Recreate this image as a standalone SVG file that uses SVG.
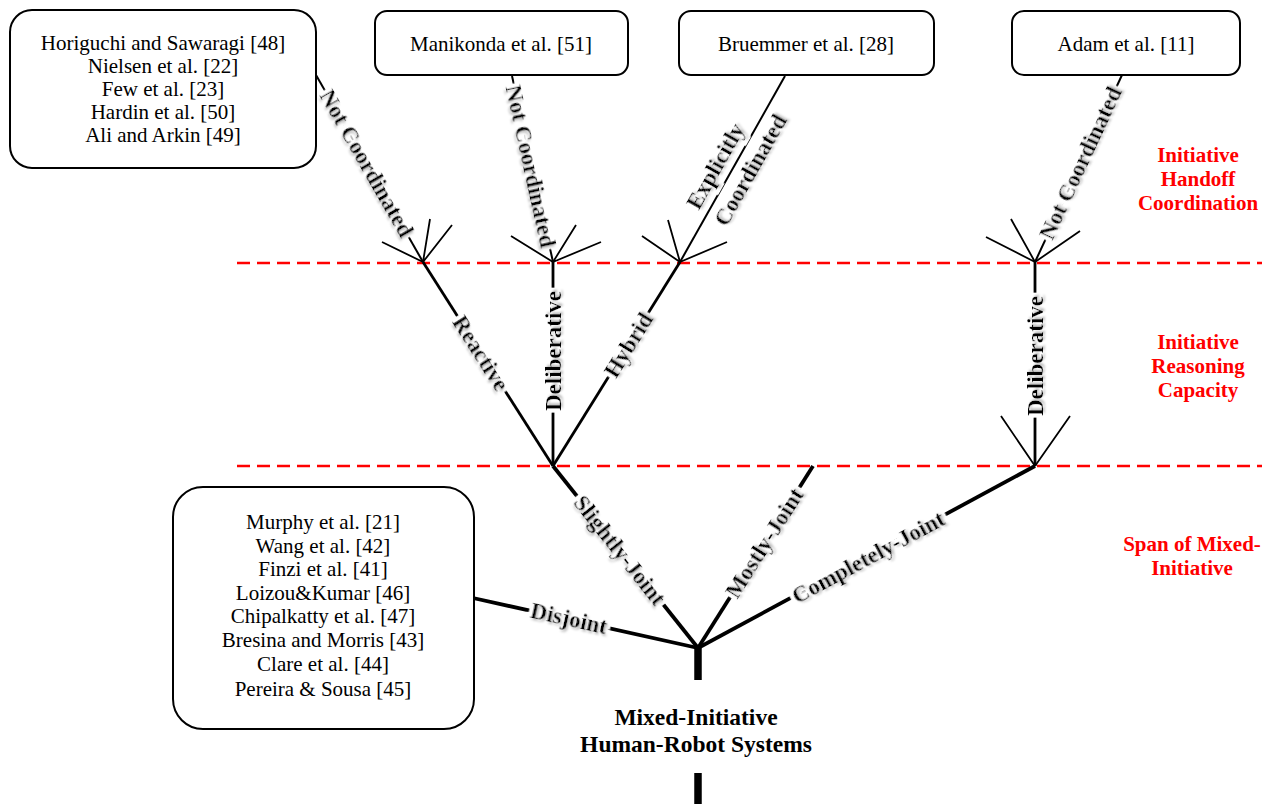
<svg xmlns="http://www.w3.org/2000/svg" width="1266" height="804" viewBox="0 0 1266 804">
<defs>
<style>
.box{fill:#fff;stroke:#000;stroke-width:2}
.bt{font-family:"Liberation Serif","Times New Roman",serif;font-size:21px;fill:#000;text-anchor:middle}
.red{font-family:"Liberation Serif","Times New Roman",serif;font-size:21px;font-weight:bold;fill:#ff0000;text-anchor:middle}
.title{font-family:"Liberation Serif","Times New Roman",serif;font-size:23.5px;font-weight:bold;fill:#000;text-anchor:middle}
.lbl{font-family:"Liberation Serif","Times New Roman",serif;font-size:23px;font-weight:bold;fill:#000;text-anchor:middle;dominant-baseline:central;filter:url(#halo)}
.dash{stroke:#ff0000;stroke-width:2.5;stroke-dasharray:13 7;fill:none}
.c1{stroke:#000;stroke-width:2;fill:none}
.c2{stroke:#000;stroke-width:2.8;fill:none}
.c3{stroke:#000;stroke-width:3.8;fill:none}
.fan{stroke:#000;stroke-width:1.8;fill:none}
</style>
<filter id="halo" x="-20%" y="-60%" width="140%" height="220%">
<feMorphology in="SourceAlpha" operator="dilate" radius="3.5" result="d"/>
<feFlood flood-color="#ffffff"/>
<feComposite in2="d" operator="in" result="white"/>
<feGaussianBlur in="SourceAlpha" stdDeviation="1.2" result="b"/>
<feOffset in="b" dx="1.5" dy="1.5" result="o"/>
<feFlood flood-color="#777777" flood-opacity="0.6"/>
<feComposite in2="o" operator="in" result="shadow"/>
<feMerge><feMergeNode in="white"/><feMergeNode in="shadow"/><feMergeNode in="SourceGraphic"/></feMerge>
</filter>
</defs>
<rect width="1266" height="804" fill="#fff"/>

<g id="levels">
<line class="dash" x1="237" y1="263" x2="1262" y2="263"/>
<line class="dash" x1="237" y1="466" x2="1262" y2="466"/>
</g>

<g id="connectors">
<line class="c1" x1="316" y1="75" x2="423" y2="262"/>
<line class="c1" x1="512" y1="76" x2="553" y2="262"/>
<line class="c1" x1="785" y1="76" x2="680" y2="262"/>
<line class="c1" x1="1122" y1="75" x2="1035" y2="262"/>
<line class="c2" x1="553" y1="466" x2="423" y2="262"/>
<line class="c2" x1="553" y1="466" x2="553" y2="262"/>
<line class="c2" x1="553" y1="466" x2="680" y2="262"/>
<line class="c2" x1="1035" y1="466" x2="1035" y2="262"/>
<line class="c3" x1="698" y1="648" x2="553" y2="466"/>
<line class="c3" x1="698" y1="648" x2="813" y2="466"/>
<line class="c3" x1="698" y1="648" x2="1035" y2="466"/>
<line class="c3" x1="698" y1="648" x2="473" y2="598"/>
<line stroke="#000" stroke-width="7.5" x1="698" y1="646" x2="698" y2="680"/>
<line stroke="#000" stroke-width="7.5" x1="698" y1="773" x2="698" y2="804"/>
<text class="lbl" transform="translate(367,163) rotate(60.2)">Not Coordinated</text>
<text class="lbl" transform="translate(531,166) rotate(77.6)">Not Coordinated</text>
<text class="lbl" transform="translate(715,166) rotate(-60.5)">Explicitly</text>
<text class="lbl" transform="translate(750,170) rotate(-60.5)">Coordinated</text>
<text class="lbl" transform="translate(1080,163) rotate(-65)">Not Coordinated</text>
<text class="lbl" transform="translate(481,353) rotate(57.5)">Reactive</text>
<text class="lbl" transform="translate(553,351) rotate(-90)">Deliberative</text>
<text class="lbl" transform="translate(628,345) rotate(-58.1)">Hybrid</text>
<text class="lbl" transform="translate(1035,356) rotate(-90)">Deliberative</text>
<text class="lbl" transform="translate(620,550) rotate(51.6)">Slightly-Joint</text>
<text class="lbl" transform="translate(764,543) rotate(-57.5)">Mostly-Joint</text>
<text class="lbl" transform="translate(868,557) rotate(-28.3)">Completely-Joint</text>
<text class="lbl" transform="translate(569,618) rotate(12.6)">Disjoint</text>
<path class="fan" d="M423 262L382 242M423 262L430 219M423 262L452 225"/>
<path class="fan" d="M553 262L511 236M553 262L576 225M553 262L601 242"/>
<path class="fan" d="M680 262L642 236M680 262L668 220M680 262L727 242"/>
<path class="fan" d="M1035 262L986 237M1035 262L1011 219M1035 262L1080 231"/>
<path class="fan" d="M1035 466L1001 416M1035 466L1070 416"/>
</g>

<g id="box-tl">
<rect class="box" x="10" y="10" width="306" height="158" rx="22"/>
<text class="bt" x="163" y="50">Horiguchi and Sawaragi [48]</text>
<text class="bt" x="163" y="73">Nielsen et al. [22]</text>
<text class="bt" x="163" y="96">Few et al. [23]</text>
<text class="bt" x="163" y="119">Hardin et al. [50]</text>
<text class="bt" x="163" y="142">Ali and Arkin [49]</text>
</g>
<g id="box-manikonda">
<rect class="box" x="375" y="11" width="253" height="64" rx="12"/>
<text class="bt" x="501" y="51">Manikonda et al. [51]</text>
</g>
<g id="box-bruemmer">
<rect class="box" x="679" y="11" width="255" height="64" rx="12"/>
<text class="bt" x="806" y="51">Bruemmer et al. [28]</text>
</g>
<g id="box-adam">
<rect class="box" x="1012" y="11" width="228" height="64" rx="12"/>
<text class="bt" x="1126" y="51">Adam et al. [11]</text>
</g>
<g id="box-ll">
<rect class="box" x="173" y="487" width="301" height="242" rx="30"/>
<text class="bt" x="323" y="529">Murphy et al. [21]</text>
<text class="bt" x="323" y="553">Wang et al. [42]</text>
<text class="bt" x="323" y="576">Finzi et al. [41]</text>
<text class="bt" x="323" y="600">Loizou&amp;Kumar [46]</text>
<text class="bt" x="323" y="623">Chipalkatty et al. [47]</text>
<text class="bt" x="323" y="647">Bresina and Morris [43]</text>
<text class="bt" x="323" y="671">Clare et al. [44]</text>
<text class="bt" x="323" y="696">Pereira &amp; Sousa [45]</text>
</g>

<g id="root">
<text class="title" x="696" y="725">Mixed-Initiative</text>
<text class="title" x="696" y="752">Human-Robot Systems</text>
</g>

<g id="level-labels">
<text class="red" x="1198" y="162">Initiative</text>
<text class="red" x="1198" y="186">Handoff</text>
<text class="red" x="1198" y="210">Coordination</text>
<text class="red" x="1198" y="349">Initiative</text>
<text class="red" x="1198" y="373">Reasoning</text>
<text class="red" x="1198" y="397">Capacity</text>
<text class="red" x="1192" y="551">Span of Mixed-</text>
<text class="red" x="1192" y="575">Initiative</text>
</g>
</svg>
